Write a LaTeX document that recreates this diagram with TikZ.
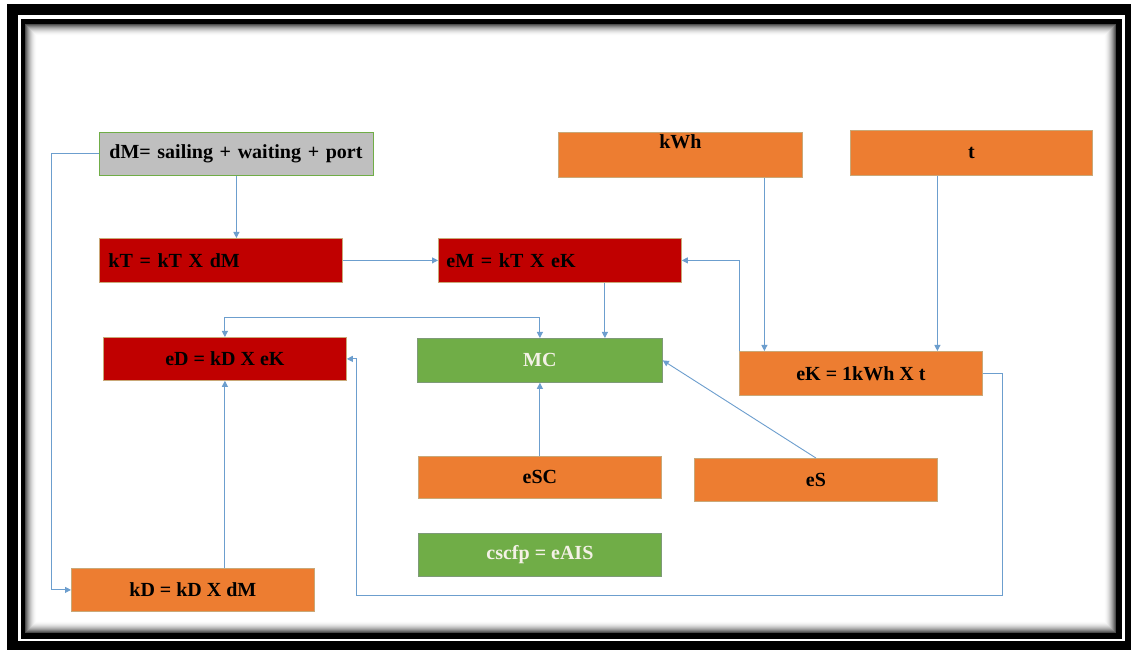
\documentclass[tikz,border=0pt]{standalone}
\usepackage{fontspec}
\setmainfont{Liberation Serif}
\usetikzlibrary{arrows.meta}
\definecolor{boxred}{HTML}{C00000}
\definecolor{boxorange}{HTML}{ED7D31}
\definecolor{boxgreen}{HTML}{70AD47}
\definecolor{boxgray}{HTML}{BFBFBF}
\definecolor{edgetan}{HTML}{C9A878}
\definecolor{edgegreen}{HTML}{7E9A78}
\definecolor{linkblue}{RGB}{108,158,206}
\definecolor{lighttext}{HTML}{F4F1E6}
\begin{document}
\begin{tikzpicture}[x=1pt,y=-1pt,
  box/.style={rectangle, anchor=north west, minimum width=243pt, minimum height=43pt,
    inner sep=0pt, line width=0.8pt, text=black,
    font=\fontsize{20}{24}\selectfont\bfseries},
  redbox/.style={box, fill=boxred, draw=edgetan},
  orangebox/.style={box, fill=boxorange, draw=edgetan},
  greenbox/.style={box, fill=boxgreen, draw=edgegreen, text=lighttext},
  graybox/.style={box, fill=boxgray, draw=boxgreen},
  leftset/.style 2 args={inner xsep=#1, text width=#2, align=left},
  conn/.style={draw=linkblue, line width=0.9pt,
    -{Triangle[length=6pt,width=6pt]}},
  both/.style={draw=linkblue, line width=0.9pt,
    {Triangle[length=6pt,width=6pt]}-{Triangle[length=6pt,width=6pt]}}
]
\useasboundingbox (0,0) rectangle (1136,652);

% double frame
\fill[black] (7,4) rectangle (1131,650);
\fill[white] (18,15) rectangle (1125,641);
\fill[black] (21,19) rectangle (1122,639);
\fill[white] (25,24) rectangle (1116,633);
% soft inner shadow
\foreach \i in {0,...,11}{
  \pgfmathsetmacro{\shade}{70*(1-\i/12)*(1-\i/12)}
  \draw[black!\shade, line width=1pt] (25.5+\i,24.5+\i) rectangle (1115.5-\i,632.5-\i);
}

% boxes
\node[graybox, minimum width=274pt, leftset={10pt}{254pt}] (dm) at (99,132) {dM= sailing + waiting + port};
\node[redbox, minimum height=44pt, leftset={9pt}{225pt}] (kt) at (99,238) {kT = kT X dM};
\node[redbox, minimum height=44pt, leftset={8pt}{227pt}] (em) at (438,238) {eM = kT X eK};
\node[greenbox, minimum width=245pt, minimum height=44pt] (mc) at (417,338) {MC};
\node[redbox] (ed) at (103,337) {eD = kD X eK};
\node[orangebox, minimum height=44pt] (ek) at (739,351) {eK = 1kWh X t};
\node[orangebox, minimum width=244pt, minimum height=45pt] (kwh) at (558,132) {\raisebox{6pt}[0pt][0pt]{kWh}};
\node[orangebox, minimum width=242pt, minimum height=45pt] (t) at (850,130) {t};
\node[orangebox, minimum height=42pt] (esc) at (418,456) {eSC};
\node[orangebox] (es) at (694,458) {eS};
\node[greenbox] (cscfp) at (418,533) {cscfp = eAIS};
\node[orangebox] (kd) at (71,568) {kD = kD X dM};

% loop corners of the long return line
\coordinate (loopSE) at (1002,595);
\coordinate (loopSW) at (356,595);

% connectors
\draw[conn] (dm.south) -- (dm.south |- kt.north);
\draw[conn] (dm.west) -| ([xshift=-20pt]kd.west) -- (kd.west);
\draw[conn] (kt.east) -- (em.west);
\draw[conn] ([xshift=45pt]em.south) -- ([xshift=45pt]em.south |- mc.north);
\draw[both] (ed.north) |- ([yshift=21pt]mc.north) -- (mc.north);
\draw[conn] (esc.north) -- (mc.south);
\draw[conn] (es.north) -- (mc.east);
\draw[conn] ([xshift=84pt]kwh.south) -- ([xshift=84pt]kwh.south |- ek.north);
\draw[conn] ([xshift=-34pt]t.south) -- ([xshift=-34pt]t.south |- ek.north);
\draw[conn] (ek.north west) |- (em.east);
\draw[conn] (ek.east) -| (loopSE) -- (loopSW) |- (ed.east);
\draw[conn] (ed.south |- kd.north) -- (ed.south);
\end{tikzpicture}
\end{document}
